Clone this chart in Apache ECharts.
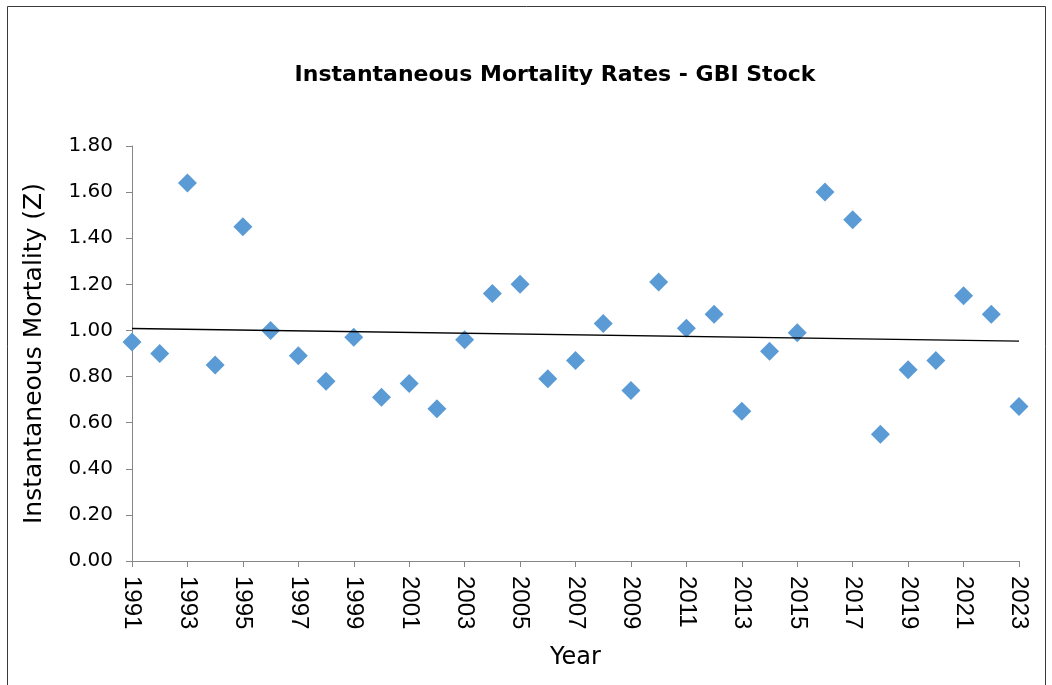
<!DOCTYPE html>
<html>
<head>
<meta charset="utf-8">
<script src="https://cdn.jsdelivr.net/npm/echarts@6/dist/echarts.min.js"></script>
<style>
html,body{margin:0;padding:0;background:#fff;}
#chart{width:1052px;height:685px;}
</style>
</head>
<body>
<div id="chart"></div>
<script>
var years = [1991,1992,1993,1994,1995,1996,1997,1998,1999,2000,2001,2002,2003,2004,2005,2006,2007,2008,2009,2010,2011,2012,2013,2014,2015,2016,2017,2018,2019,2020,2021,2022,2023];
var mortalityZ = [0.95,0.90,1.64,0.85,1.45,1.00,0.89,0.78,0.97,0.71,0.77,0.66,0.96,1.16,1.20,0.79,0.87,1.03,0.74,1.21,1.01,1.07,0.65,0.91,0.99,1.60,1.48,0.55,0.83,0.87,1.15,1.07,0.67];
var yTicks = [0,0.2,0.4,0.6,0.8,1.0,1.2,1.4,1.6,1.8];
var baseYear = years[0];

// linear least-squares trend line of the data
var n = years.length, sx=0, sy=0, sxx=0, sxy=0;
for (var i=0;i<n;i++){var xx=years[i]-baseYear, yy=mortalityZ[i]; sx+=xx; sy+=yy; sxx+=xx*xx; sxy+=xx*yy;}
var slope = (n*sxy - sx*sy)/(n*sxx - sx*sx);
var intercept = (sy - slope*sx)/n;
var x0 = 0, x1 = years[n-1]-baseYear;
var trend = [[x0, intercept+slope*x0],[x1, intercept+slope*x1]];

var points = years.map(function(y,i){return [y-baseYear, mortalityZ[i]];});
var chart = echarts.init(document.getElementById('chart'));
var wide = '"DejaVu Sans", Arial, sans-serif';
var arial = '"Liberation Sans", Arial, sans-serif';
chart.setOption({
  animation:false,
  backgroundColor:'#fff',
  graphic:[{type:'rect',shape:{x:7.5,y:6.5,width:1038,height:700},style:{fill:'none',stroke:'#3a3a3a',lineWidth:1}}],
  title:{text:'Instantaneous Mortality Rates - GBI Stock',left:550,top:59,textAlign:'center',
    textStyle:{fontFamily:wide,fontSize:22,fontWeight:'bold',color:'#000'}},
  grid:{left:132,right:33,top:146,bottom:124},
  xAxis:{type:'value',min:0,max:x1,interval:2,
    name:'Year',nameLocation:'middle',nameGap:85,
    nameTextStyle:{fontFamily:wide,fontSize:24,color:'#000'},
    axisLine:{lineStyle:{color:'#868686',width:1}},
    axisTick:{show:true,length:6,lineStyle:{color:'#868686'}},
    splitLine:{show:false},
    axisLabel:{rotate:-90,margin:15,fontFamily:arial,fontSize:24,color:'#000',
      formatter:function(v){return String(v+baseYear);}}
  },
  yAxis:{type:'value',min:yTicks[0],max:yTicks[yTicks.length-1],interval:0.2,
    name:'Instantaneous Mortality (Z)',nameLocation:'middle',nameGap:85,
    nameTextStyle:{fontFamily:wide,fontSize:25,color:'#000'},
    axisLine:{show:true,lineStyle:{color:'#868686',width:1}},
    axisTick:{show:true,length:6,lineStyle:{color:'#868686'}},
    splitLine:{show:false},
    axisLabel:{margin:19,fontFamily:wide,fontSize:20,color:'#000',
      formatter:function(v){return v.toFixed(2);}}
  },
  series:[
    {type:'line',data:trend,showSymbol:false,symbol:'none',silent:true,
      lineStyle:{color:'#000',width:1.3},z:3},
    {type:'scatter',data:points,symbol:'diamond',symbolSize:19,
      itemStyle:{color:'#5B9BD5',opacity:1},z:2}
  ]
});
</script>
</body>
</html>
